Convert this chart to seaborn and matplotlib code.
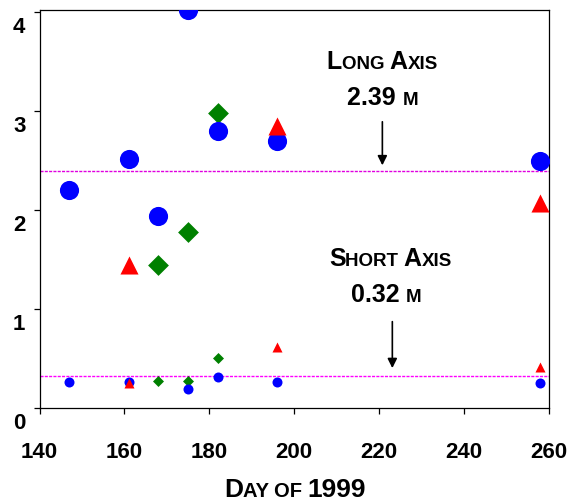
import numpy as np
import pandas as pd
import matplotlib
matplotlib.use("Agg")
import matplotlib.pyplot as plt
import matplotlib.transforms as mtransforms
from matplotlib.offsetbox import TextArea, HPacker, AnnotationBbox
import seaborn as sns

# ---------------- data ----------------
days = [147, 161, 168, 175, 182, 196, 258]
nan = np.nan
blue_long = [2.20, 2.51, 1.94, 4.02, 2.80, 2.70, 2.49]
blue_short = [0.26, 0.26, nan, 0.19, 0.31, 0.26, 0.25]
red_long = [nan, 1.44, nan, nan, nan, 2.85, 2.07]
red_short = [nan, 0.25, nan, nan, nan, 0.61, 0.41]
green_long = [nan, nan, 1.44, 1.78, 2.98, nan, nan]
green_short = [nan, nan, 0.27, 0.27, 0.50, nan, nan]
long_axis_mean = 2.39
short_axis_mean = 0.32
x_ticks = [140, 160, 180, 200, 220, 240, 260]
y_ticks = [0, 1, 2, 3, 4]

sns.set_theme(style="white")
FONT = "Liberation Sans"
plt.rcParams["font.family"] = [FONT, "DejaVu Sans"]

fig = plt.figure(figsize=(5.81, 5.01), dpi=100)
ax = fig.add_axes([39.5 / 581, 1 - 407.7 / 501, (548.7 - 39.5) / 581, (407.7 - 9.5) / 501])

df = pd.DataFrame({"day": days, "bl": blue_long, "bs": blue_short, "rl": red_long,
                   "rs": red_short, "gl": green_long, "gs": green_short})

BLUE, RED, GREEN = "#0000FF", "#FF0000", "#008000"

ax.axhline(long_axis_mean, color="#E000E0", lw=1.0, ls=(0, (2.2, 0.9)), zorder=1)
ax.axhline(short_axis_mean, color="#FF00FF", lw=1.0, ls=(0, (2.2, 0.9)), zorder=1)

# green, then blue, then red
sns.scatterplot(data=df, x="day", y="gl", marker="D", s=10.6 ** 2, color=GREEN, linewidth=0, ax=ax, zorder=3)
sns.scatterplot(data=df, x="day", y="gs", marker="D", s=5.6 ** 2, color=GREEN, linewidth=0, ax=ax, zorder=3)
sns.scatterplot(data=df, x="day", y="bl", marker="o", s=13.8 ** 2, color=BLUE, linewidth=0, ax=ax, zorder=4)
sns.scatterplot(data=df, x="day", y="bs", marker="o", s=7.2 ** 2, color=BLUE, linewidth=0, ax=ax, zorder=4)
sns.scatterplot(data=df, x="day", y="rl", marker="^", s=13.0 ** 2, color=RED, linewidth=0, ax=ax, zorder=5)
sns.scatterplot(data=df, x="day", y="rs", marker="^", s=7.2 ** 2, color=RED, linewidth=0, ax=ax, zorder=5)

ax.set_xlim(140, 260)
ax.set_ylim(0, 4.025)
ax.set_xlabel("")
ax.set_ylabel("")
ax.set_xticks(x_ticks)
ax.set_yticks(y_ticks)
ax.set_xticklabels([str(t) for t in x_ticks])
ax.set_yticklabels([str(t) for t in y_ticks])

for sp in ax.spines.values():
    sp.set_visible(True)
    sp.set_color("black")
    sp.set_linewidth(0.9)

ax.tick_params(axis="x", direction="out", length=4.0, width=0.9, color="black",
               pad=21, labelsize=16, bottom=True)
ax.tick_params(axis="y", direction="out", length=4.3, width=0.9, color="black",
               pad=5.8, labelsize=16, left=True)
for lab in ax.get_xticklabels() + ax.get_yticklabels():
    lab.set_fontweight("bold")
    lab.set_fontfamily(FONT)
    lab.set_color("black")

offset = mtransforms.ScaledTranslation(0, -13 / 100, fig.dpi_scale_trans)
for tick in ax.yaxis.get_major_ticks():
    tick.label1.set_transform(tick.label1.get_transform() + offset)


def small_caps(pieces, xy, xycoords="data", big=18, small=13.5):
    children = []
    for txt, is_big in pieces:
        children.append(TextArea(txt, textprops=dict(fontsize=big if is_big else small,
                                                     fontweight="bold", family=FONT,
                                                     color="black")))
    box = HPacker(children=children, align="baseline", pad=0, sep=0)
    ab = AnnotationBbox(box, xy, xycoords=xycoords, frameon=False,
                        box_alignment=(0.5, 0.5), pad=0, annotation_clip=False)
    ax.add_artist(ab)


small_caps([("L", True), ("ONG ", False), ("A", True), ("XIS", False)], (220.8, 3.49))
small_caps([("2.39 ", True), ("M", False)], (220.9, 3.13))
small_caps([("S", True), ("HORT ", False), ("A", True), ("XIS", False)], (222.7, 1.50))
small_caps([("0.32 ", True), ("M", False)], (221.7, 1.14))
small_caps([("D", True), ("AY ", False), ("OF ", False), ("1999", True)],
           (295 / 581, 1 - 490 / 501), xycoords="figure fraction", big=19, small=14.5)

ax.annotate("", xy=(220.8, 2.45), xytext=(220.8, 2.89),
            arrowprops=dict(arrowstyle="-|>", color="black", lw=1.2, mutation_scale=14,
                            shrinkA=0, shrinkB=0))
ax.annotate("", xy=(223.15, 0.40), xytext=(223.15, 0.87),
            arrowprops=dict(arrowstyle="-|>", color="black", lw=1.2, mutation_scale=14,
                            shrinkA=0, shrinkB=0))

fig.savefig("out.png", dpi=100)
